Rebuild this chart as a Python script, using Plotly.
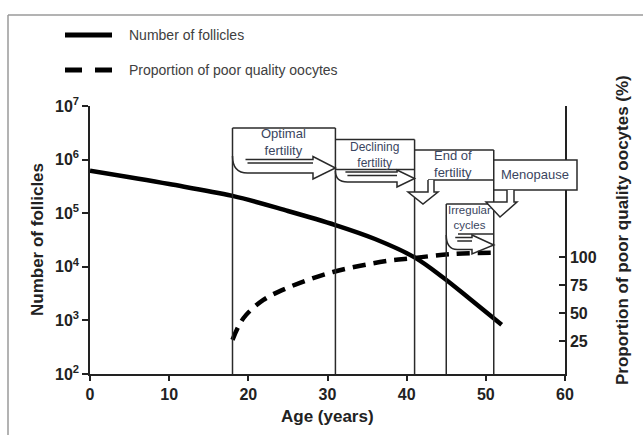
import plotly.graph_objects as go

# ---------------- data ----------------
age_follicles = [0, 10, 18, 25, 31, 36, 41, 44.6, 48, 52]
n_follicles = [6.2e5, 3.5e5, 2.1e5, 1.1e5, 6.0e4, 3.3e4, 1.5e4, 6.3e3, 2.5e3, 830]

age_poor = [18, 19.4, 21.9, 24.9, 30.7, 37.5, 40.8, 45.8, 50.8]
pct_poor = [26, 45.5, 61.6, 72.3, 86.6, 96.4, 99, 102.7, 103.8]

stage_bounds = [18, 31, 41, 45, 51]
stage_labels = ["Optimal<br>fertility", "Declining<br>fertility", "End of<br>fertility",
                "Irregular<br>cycles", "Menopause"]

x_ticks = [0, 10, 20, 30, 40, 50, 60]
y_ticks = [1e2, 1e3, 1e4, 1e5, 1e6, 1e7]
y_tick_labels = ["10<sup>2</sup>", "10<sup>3</sup>", "10<sup>4</sup>", "10<sup>5</sup>",
                 "10<sup>6</sup>", "10<sup>7</sup>"]
y2_ticks = [25, 50, 75, 100]

legend_names = ["Number of follicles", "Proportion of poor quality oocytes"]

# ---------------- layout geometry ----------------
W, H = 643, 435
L, R, T, B = 90, 565, 106, 374
FONT = "Liberation Sans, Arial, sans-serif"
INK = "#222222"
BOXC = "#2a2a2a"
TXT = "#3a4560"


def px(a):
    return L + a * (R - L) / 60.0


def pp(x, y):
    return (x - L) / (R - L), (B - y) / (B - T)


def P(x, y):
    a, b = pp(x, y)
    return f"{a:.5f},{b:.5f}"


fig = go.Figure()
fig.add_trace(go.Scatter(x=age_follicles, y=n_follicles, mode="lines", name=legend_names[0],
                         line=dict(color="black", width=4.5, shape="spline", smoothing=1.0),
                         showlegend=False))
fig.add_trace(go.Scatter(x=age_poor, y=pct_poor, mode="lines", name=legend_names[1], yaxis="y2",
                         line=dict(color="black", width=4.5, dash="13px,8px", shape="spline",
                                   smoothing=1.0),
                         showlegend=False))

shapes = []
lw = 1.5


def seg(x0, y0, x1, y1, color=BOXC, width=lw):
    a0, b0 = pp(x0, y0)
    a1, b1 = pp(x1, y1)
    shapes.append(dict(type="line", xref="paper", yref="paper", x0=a0, y0=b0, x1=a1, y1=b1,
                       line=dict(color=color, width=width), layer="above"))


def pathshape(d, fill="rgba(0,0,0,0)"):
    shapes.append(dict(type="path", xref="paper", yref="paper", path=d, fillcolor=fill,
                       line=dict(color=BOXC, width=lw), layer="above"))


x1, x2, x3, x4, x5 = [px(a) for a in stage_bounds]

# vertical stage boundaries
tops = [128, 128, 139.5, 204, 150]
for xb, yt in zip([x1, x2, x3, x4, x5], tops):
    seg(xb, B, xb, yt)

# box 1 top
seg(x1, 128, x2, 128)
# box 2
seg(x2, 139.5, x3, 139.5)
seg(x2, 169.5, x3, 169.5)
# box 3
seg(x3, 150, x5, 150)
seg(428, 180, x5, 180)
# box 4
seg(x4, 204, x5, 204)
seg(458, 234, x5, 234)
# box 5 (menopause) filled white over axis
a0, b0 = pp(x5, 160)
a1, b1 = pp(577, 190)
shapes.append(dict(type="rect", xref="paper", yref="paper", x0=a0, y0=b1, x1=a1, y1=b0,
                   fillcolor="white", line=dict(color=BOXC, width=lw), layer="above"))


def curved_arrow(xl, xr, ys, yt, yb, yc, hx, ht, hb, r):
    d = (f"M {P(xl, ys)} Q {P(xl, yb)} {P(xl + r, yb)} L {P(hx, yb)} L {P(hx, hb)} "
         f"L {P(xr, yc)} L {P(hx, ht)} L {P(hx, yt)} L {P(xl + r - 2, yt)}")
    pathshape(d)
    seg(xl + r, yt + 3.5, hx, yt + 3.5)


curved_arrow(x1, x2, 156, 159.5, 173, 168, 313, 156.5, 179, 15)
curved_arrow(x2, x3, 171, 172, 182, 178.5, 397, 170, 187, 12)
curved_arrow(x4, x5, 235, 237.5, 249.5, 245, 472, 235, 254, 11)


def down_arrow(sl, sr, ytop, yh, hl, hr, tx, ty):
    d = (f"M {P(sl, ytop)} L {P(sl, yh)} L {P(hl, yh)} L {P(tx, ty)} L {P(hr, yh)} "
         f"L {P(sr, yh)} L {P(sr, ytop)}")
    pathshape(d, fill="white")


down_arrow(428, 434, 180, 192, 408, 438, 423, 204)
down_arrow(507, 514, 190, 202, 486, 517, 500, 217)

# legend samples
seg(65, 35, 112, 35, color="black", width=5)
seg(65, 70, 82, 70, color="black", width=5)
seg(95, 70, 112, 70, color="black", width=5)

# outer border
seg(8, 15, 643, 15, color="#9a9a9a", width=1.5)
seg(8, 15, 8, 435, color="#9a9a9a", width=1.5)

annotations = []


def label(text, x, y, size=13, color=TXT, bold=False, angle=0, xanchor="center"):
    a, b = pp(x, y)
    annotations.append(dict(text=text, x=a, y=b, xref="paper", yref="paper", showarrow=False,
                            xanchor=xanchor, yanchor="middle", textangle=angle,
                            font=dict(family=FONT, size=size, color=color,
                                      weight="bold" if bold else "normal")))


label(stage_labels[0], 283, 142)
label(stage_labels[1], 374, 154.5, size=12)
label(stage_labels[2], 453, 163.5)
label(stage_labels[3], 469.5, 217.5, size=11.5)
label(stage_labels[4], 535, 174)

label(legend_names[0], 127, 35, size=14, color="#404040", xanchor="left")
label(legend_names[1], 127, 70, size=14, color="#404040", xanchor="left")

label("Number of follicles", 37, 240, size=17, color=INK, bold=True, angle=-90)
label("Age (years)", 327, 416, size=17, color=INK, bold=True)
label("Proportion of poor quality oocytes (%)", 622, 230, size=17, color=INK, bold=True,
      angle=-90)

tickfont = dict(size=16, weight="bold", color=INK, family=FONT)
fig.update_layout(
    width=W, height=H, autosize=False,
    margin=dict(l=L, r=W - R, t=T, b=H - B, pad=0),
    paper_bgcolor="white", plot_bgcolor="white",
    font=dict(family=FONT, color=INK),
    shapes=shapes, annotations=annotations, showlegend=False,
    xaxis=dict(range=[0, 60], tickvals=x_ticks, ticks="outside", ticklen=5, tickwidth=1.5,
               tickcolor=INK, showline=True, linecolor=INK, linewidth=1.5, showgrid=False,
               zeroline=False, tickfont=tickfont),
    yaxis=dict(type="log", range=[2, 7], tickvals=y_ticks, ticktext=y_tick_labels,
               ticks="outside", ticklen=6, tickwidth=1.5, tickcolor=INK, showline=True,
               linecolor=INK, linewidth=1.5, showgrid=False, zeroline=False,
               tickfont=tickfont),
    yaxis2=dict(overlaying="y", side="right", anchor="x", range=[-4.5, 234.8], tickvals=y2_ticks,
                ticks="inside", ticklen=6, tickwidth=1.5, tickcolor=INK, showline=True,
                linecolor=INK, linewidth=1.5, showgrid=False, zeroline=False,
                tickfont=tickfont),
)

fig.write_html("out.html", post_script="document.body.style.margin='0px';",
               config={"displayModeBar": False})
